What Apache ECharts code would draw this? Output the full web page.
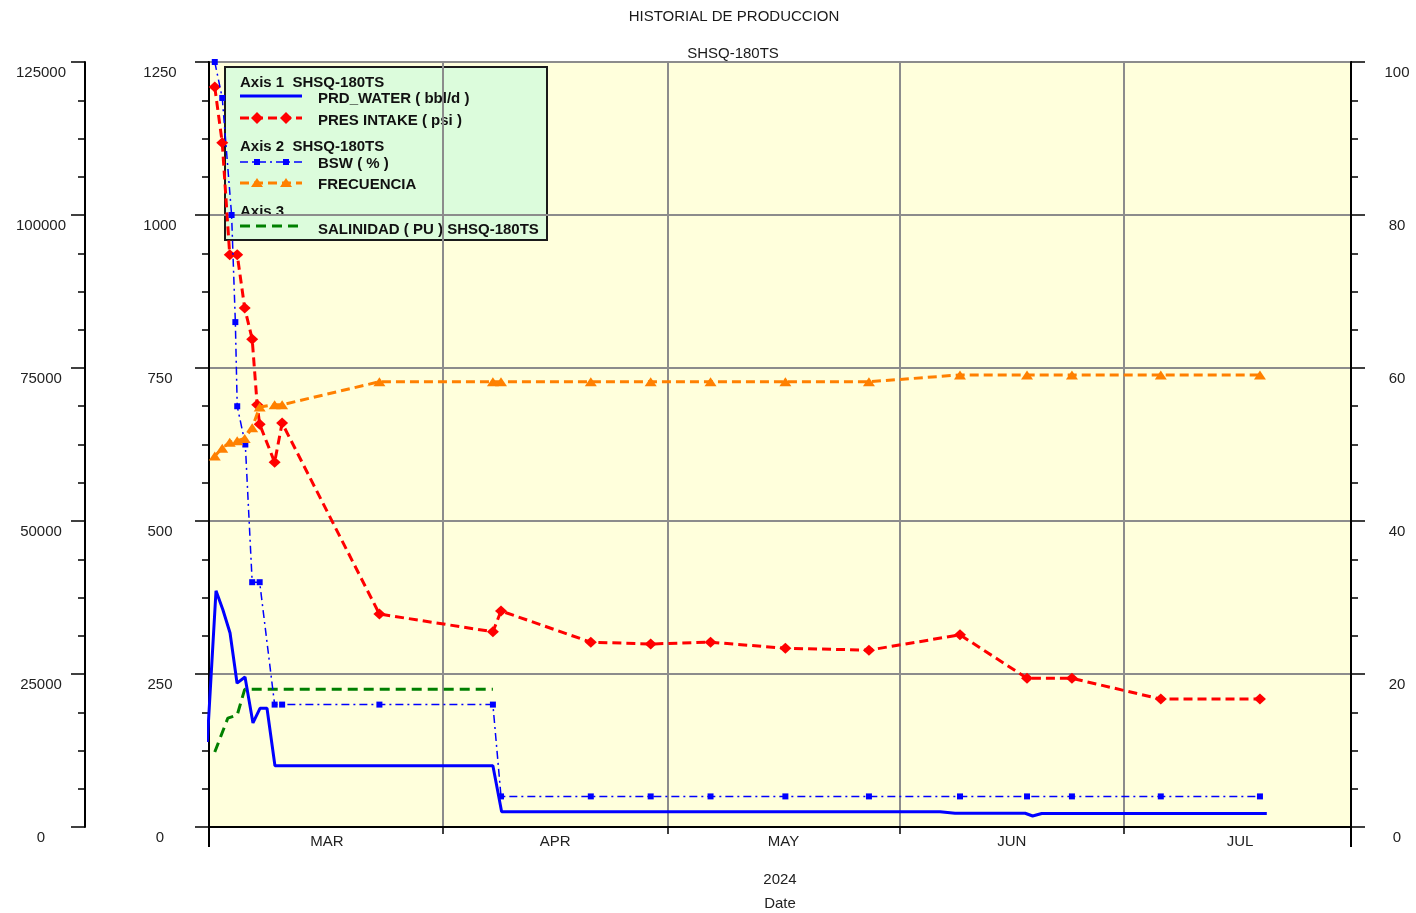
<!DOCTYPE html>
<html>
<head>
<meta charset="utf-8">
<script src="https://cdn.jsdelivr.net/npm/echarts@6.0.0/dist/echarts.min.js"></script>
<style>
  html, body { margin: 0; padding: 0; background: #ffffff; }
  #chart { width: 1416px; height: 913px; }
</style>
</head>
<body>
<div id="chart"></div>
<script>
// ---- Time axis: month bands and their labels ----
const monthLabels = ['MAR', 'APR', 'MAY', 'JUN', 'JUL'];
const monthStarts = ['2024-03-01', '2024-04-01', '2024-05-01', '2024-06-01', '2024-07-01', '2024-08-01'];
const dateMin = '2024-02-29 17:30';
const dateMax = '2024-07-31 08:00';

// ---- Axis 1: PRD_WATER ( bbl/d ) ----
const waterDates = [
  '2024-02-29 12:00', '2024-03-01 16:00', '2024-03-02 14:00', '2024-03-03 13:00', '2024-03-04 11:30',
  '2024-03-05 13:00', '2024-03-06 14:30', '2024-03-07 13:00', '2024-03-08 11:30', '2024-03-09 13:00',
  '2024-04-07 16:00', '2024-04-08 20:00', '2024-06-06 10:00', '2024-06-08 10:00', '2024-06-17 19:00',
  '2024-06-18 19:00', '2024-06-20 00:00', '2024-07-20 02:00'
];
const waterValues = [139, 386, 355, 317, 235, 245, 170, 194, 194, 100, 100, 25, 25, 22.5, 22.5, 18, 22, 22];

// ---- Axis 1: PRES INTAKE ( psi ) ----
const presDates = [
  '2024-03-01 12:00', '2024-03-02 12:00', '2024-03-03 12:00', '2024-03-04 12:00', '2024-03-05 12:00',
  '2024-03-06 12:00', '2024-03-07 04:00', '2024-03-07 12:00', '2024-03-09 12:00', '2024-03-10 12:00',
  '2024-03-23 12:00', '2024-04-07 16:00', '2024-04-08 18:00', '2024-04-20 18:00', '2024-04-28 18:00',
  '2024-05-06 18:00', '2024-05-16 18:00', '2024-05-27 22:00', '2024-06-09 02:00', '2024-06-18 01:00',
  '2024-06-24 01:00', '2024-07-05 22:00', '2024-07-19 04:00'
];
const presValues = [
  1209, 1118, 935, 935, 848, 797, 690, 658, 596, 660,
  348, 319, 353, 302, 299, 302, 292, 289, 314, 243,
  243, 209, 209
];

// ---- Axis 2: BSW ( % ) ----
const bswDates = [
  '2024-03-01 12:00', '2024-03-02 12:00', '2024-03-03 18:00', '2024-03-04 06:00', '2024-03-04 12:00',
  '2024-03-05 14:00', '2024-03-06 12:00', '2024-03-07 12:00', '2024-03-09 12:00', '2024-03-10 12:00',
  '2024-03-23 12:00', '2024-04-07 16:00', '2024-04-08 18:00', '2024-04-20 18:00', '2024-04-28 18:00',
  '2024-05-06 18:00', '2024-05-16 18:00', '2024-05-27 22:00', '2024-06-09 02:00', '2024-06-18 01:00',
  '2024-06-24 01:00', '2024-07-05 22:00', '2024-07-19 04:00'
];
const bswValues = [
  100, 95.3, 80, 66, 55, 50, 32, 32, 16, 16,
  16, 16, 4, 4, 4, 4, 4, 4, 4, 4,
  4, 4, 4
];

// ---- Axis 2: FRECUENCIA ----
const freqDates = [
  '2024-03-01 12:00', '2024-03-02 12:00', '2024-03-03 12:00', '2024-03-04 12:00', '2024-03-05 12:00',
  '2024-03-06 12:00', '2024-03-07 12:00', '2024-03-09 12:00', '2024-03-10 12:00',
  '2024-03-23 12:00', '2024-04-07 16:00', '2024-04-08 18:00', '2024-04-20 18:00', '2024-04-28 18:00',
  '2024-05-06 18:00', '2024-05-16 18:00', '2024-05-27 22:00', '2024-06-09 02:00', '2024-06-18 01:00',
  '2024-06-24 01:00', '2024-07-05 22:00', '2024-07-19 04:00'
];
const freqValues = [
  48.5, 49.5, 50.3, 50.5, 50.8, 52.2, 54.9, 55.2, 55.2,
  58.2, 58.2, 58.2, 58.2, 58.2, 58.2, 58.2, 58.2, 59.1, 59.1,
  59.1, 59.1, 59.1
];

// ---- Axis 3: SALINIDAD ( PU ) ----
const salDates = ['2024-03-01 12:00', '2024-03-03 06:00', '2024-03-04 12:00', '2024-03-05 12:00', '2024-04-07 16:00'];
const salValues = [12255, 17800, 18300, 22500, 22500];

// ---- helpers ----
const FONT = '"Liberation Sans", Arial, sans-serif';
const ts = s => echarts.time.parse(s).getTime();
const pairs = (dates, values) => dates.map((d, i) => [ts(d), values[i]]);

// month boundaries (ticks + vertical grid) and mid-month label positions
const monthTicks = monthStarts.slice(1, -1).map(ts);
const labelTicks = monthLabels.map((m, i) => (ts(monthStarts[i]) + ts(monthStarts[i + 1])) / 2);

const C_BLUE = '#0000ff', C_RED = '#ff0000', C_ORANGE = '#ff8000', C_GREEN = '#008000';
const GRID_GRAY = '#8c8c8c';

function yLabel(margin) {
  return {
    color: '#222', fontSize: 15, fontFamily: FONT, align: 'center',
    verticalAlign: 'top', padding: [3, 0, 0, 0], margin: margin,
    formatter: v => String(v)
  };
}

function yAxisBase(extra) {
  return Object.assign({
    type: 'value',
    axisLine: { show: true, lineStyle: { color: '#000', width: 2 } },
    axisTick: { show: true, length: 14, lineStyle: { color: '#000', width: 1.5 } },
    minorTick: { show: true, splitNumber: 4, length: 7, lineStyle: { color: '#000', width: 1.5 } },
    splitLine: { show: false }
  }, extra);
}

// ---- legend drawn as a graphic block ----
function sampleLine(y, color, width, dash) {
  return { type: 'line', shape: { x1: 15, y1: y, x2: 77, y2: y },
           style: { stroke: color, lineWidth: width, lineDash: dash || null } };
}
function legendText(x, y, text) {
  return { type: 'text', x: x, y: y + 2,
           style: { text: text, fill: '#111', font: 'bold 15px ' + FONT, verticalAlign: 'middle', align: 'left' } };
}
function diamond(x, y, color) {
  return { type: 'polygon', shape: { points: [[x, y - 6], [x + 6, y], [x, y + 6], [x - 6, y]] }, style: { fill: color } };
}
function square(x, y, color) {
  return { type: 'rect', shape: { x: x - 3, y: y - 3, width: 6, height: 6 }, style: { fill: color } };
}
function triangle(x, y, color) {
  return { type: 'polygon', shape: { points: [[x, y - 5], [x + 6, y + 4], [x - 6, y + 4]] }, style: { fill: color } };
}

const legendBlock = {
  type: 'group', x: 225, y: 67, z: 100,
  children: [
    { type: 'rect', shape: { x: 0, y: 0, width: 322, height: 173 },
      style: { fill: '#dcfcdc', stroke: '#1a1a1a', lineWidth: 2 } },
    legendText(15, 14, 'Axis 1  SHSQ-180TS'),
    sampleLine(29, C_BLUE, 3),
    legendText(93, 30, 'PRD_WATER ( bbl/d )'),
    sampleLine(51, C_RED, 3, [9, 5]),
    diamond(32, 51, C_RED), diamond(61, 51, C_RED),
    legendText(93, 52, 'PRES INTAKE ( psi )'),
    legendText(15, 78, 'Axis 2  SHSQ-180TS'),
    sampleLine(95, C_BLUE, 1.5, [8, 4, 2, 4]),
    square(32, 95, C_BLUE), square(61, 95, C_BLUE),
    legendText(93, 95, 'BSW ( % )'),
    sampleLine(116, C_ORANGE, 3, [9, 5]),
    triangle(32, 116, C_ORANGE), triangle(61, 116, C_ORANGE),
    legendText(93, 116, 'FRECUENCIA'),
    legendText(15, 143, 'Axis 3'),
    sampleLine(159, C_GREEN, 3, [10, 6]),
    legendText(93, 161, 'SALINIDAD ( PU ) SHSQ-180TS')
  ]
};

const chart = echarts.init(document.getElementById('chart'), null, { renderer: 'canvas' });

chart.setOption({
  animation: false,
  backgroundColor: '#ffffff',
  textStyle: { fontFamily: FONT },
  title: [
    { text: 'HISTORIAL DE PRODUCCION', left: 734, top: 9, textAlign: 'center', padding: 0,
      textStyle: { fontSize: 15, fontWeight: 'normal', color: '#1a1a1a', fontFamily: FONT } },
    { text: 'SHSQ-180TS', left: 733, top: 46, textAlign: 'center', padding: 0,
      textStyle: { fontSize: 15, fontWeight: 'normal', color: '#1a1a1a', fontFamily: FONT } }
  ],
  grid: {
    left: 209, right: 65, top: 62, bottom: 86,
    outerBoundsMode: 'none', containLabel: false,
    show: true, backgroundColor: '#ffffdc', borderColor: '#000', borderWidth: 2
  },
  xAxis: [
    {
      type: 'value', min: ts(dateMin), max: ts(dateMax), position: 'bottom',
      axisLine: { show: true, lineStyle: { color: '#000', width: 2 } },
      axisTick: { show: true, customValues: monthTicks, length: 7, lineStyle: { color: '#000', width: 1.5 } },
      splitLine: { show: true, lineStyle: { color: GRID_GRAY, width: 2 } },
      axisLabel: {
        show: true, customValues: labelTicks, margin: 7,
        color: '#222', fontSize: 15, fontFamily: FONT,
        formatter: v => monthLabels[labelTicks.indexOf(+v)] || ''
      },
      name: '2024\nDate', nameLocation: 'middle', nameGap: 41,
      nameTextStyle: { color: '#222', fontSize: 15, lineHeight: 24, fontFamily: FONT }
    },
    {
      type: 'value', min: ts(dateMin), max: ts(dateMax), position: 'bottom',
      axisLine: { show: false },
      axisTick: { show: true, customValues: [ts(dateMin), ts(dateMax)], length: 20, lineStyle: { color: '#000', width: 2 } },
      splitLine: { show: false },
      axisLabel: { show: false }
    }
  ],
  yAxis: [
    yAxisBase({
      position: 'left', min: 0, max: 1250, interval: 250,
      splitLine: { show: true, lineStyle: { color: GRID_GRAY, width: 2 } },
      axisLabel: yLabel(49)
    }),
    yAxisBase({
      position: 'right', min: 0, max: 100, interval: 20,
      axisLabel: yLabel(46)
    }),
    yAxisBase({
      position: 'left', offset: 124, min: 0, max: 125000, interval: 25000,
      axisLabel: yLabel(44)
    })
  ],
  series: [
    {
      name: 'SALINIDAD ( PU ) SHSQ-180TS', type: 'line', xAxisIndex: 0, yAxisIndex: 2,
      data: pairs(salDates, salValues), showSymbol: false,
      lineStyle: { color: C_GREEN, width: 3, type: [10, 6] }, z: 3
    },
    {
      name: 'PRD_WATER ( bbl/d )', type: 'line', xAxisIndex: 0, yAxisIndex: 0,
      data: pairs(waterDates, waterValues), showSymbol: false,
      lineStyle: { color: C_BLUE, width: 3 }, z: 4
    },
    {
      name: 'PRES INTAKE ( psi )', type: 'line', xAxisIndex: 0, yAxisIndex: 0,
      data: pairs(presDates, presValues),
      symbol: 'diamond', symbolSize: [12, 11], itemStyle: { color: C_RED },
      lineStyle: { color: C_RED, width: 3, type: [9, 5] }, z: 5
    },
    {
      name: 'BSW ( % )', type: 'line', xAxisIndex: 0, yAxisIndex: 1,
      data: pairs(bswDates, bswValues),
      symbol: 'rect', symbolSize: 6, itemStyle: { color: C_BLUE },
      lineStyle: { color: C_BLUE, width: 1.5, type: [8, 4, 2, 4] }, z: 6
    },
    {
      name: 'FRECUENCIA', type: 'line', xAxisIndex: 0, yAxisIndex: 1,
      data: pairs(freqDates, freqValues),
      symbol: 'triangle', symbolSize: [12, 9], itemStyle: { color: C_ORANGE },
      lineStyle: { color: C_ORANGE, width: 3, type: [9, 5] }, z: 7
    }
  ],
  graphic: [legendBlock]
});
</script>
</body>
</html>
